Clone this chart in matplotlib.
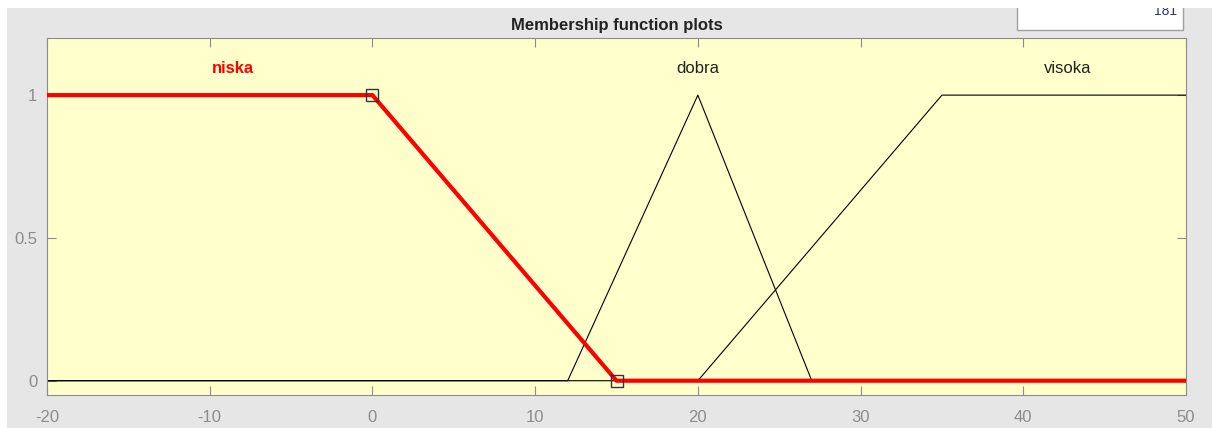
import matplotlib.pyplot as plt
from matplotlib.patches import Rectangle

plt.rcParams['font.family'] = ['Liberation Sans', 'DejaVu Sans']

# membership functions (x points, y points)
niska_x = [-20, 0, 15, 50]
niska_y = [1, 1, 0, 0]
dobra_x = [-20, 12, 20, 27, 50]
dobra_y = [0, 0, 1, 0, 0]
visoka_x = [-20, 20, 35, 50]
visoka_y = [0, 0, 1, 1]
labels = ['niska', 'dobra', 'visoka']
label_x = [-8.6, 20, 42.7]
xticks = [-20, -10, 0, 10, 20, 30, 40, 50]
yticks = [0, 0.5, 1]

fig = plt.figure(figsize=(12.12, 4.28), dpi=100)
fig.patch.set_facecolor('white')
W, H = 1212, 428
# grey panel behind the axes
fig.patches.append(Rectangle((7 / W, 0), 1 - 7 / W, 1 - 8 / H, transform=fig.transFigure,
                             facecolor='#e6e6e6', edgecolor='none', zorder=-2))
# white edit box in the top-right corner
fig.patches.append(Rectangle((1017 / W, 1 - 30 / H), 166 / W, 30 / H, transform=fig.transFigure,
                             facecolor='white', edgecolor='#a0a0a0', lw=1, zorder=-1))
fig.text(1177 / W, 1 - 15 / H, '181', ha='right', va='baseline', fontsize=10, color='#333366',
         zorder=1)
# white strip at the very top hides the upper part of the box text
fig.patches.append(Rectangle((0, 1 - 8 / H), 1, 8 / H, transform=fig.transFigure,
                             facecolor='white', edgecolor='none', zorder=5))

ax = fig.add_axes([47 / W, 1 - 395 / H, (1186 - 47) / W, (395 - 38) / H])
ax.set_facecolor('#ffffcc')

ax.plot(dobra_x, dobra_y, color='black', lw=0.8, zorder=2)
ax.plot(visoka_x, visoka_y, color='black', lw=0.8, zorder=2)
ax.plot(niska_x, niska_y, color='red', lw=3, zorder=3)
ax.plot([0, 15], [1, 0], ls='none', marker='s', ms=9, mfc='none', mec='#333333', mew=1, zorder=4)

ax.text(label_x[0], 1.094, labels[0], color='red', fontweight='bold', ha='center', va='center', fontsize=12)
ax.text(label_x[1], 1.094, labels[1], color='#222222', ha='center', va='center', fontsize=12)
ax.text(label_x[2], 1.094, labels[2], color='#222222', ha='center', va='center', fontsize=12)

ax.set_xlim(-20, 50)
ax.set_ylim(-0.05, 1.2)
ax.set_xticks(xticks)
ax.set_xticklabels([str(t) for t in xticks])
ax.set_yticks(yticks)
ax.set_yticklabels(['0', '0.5', '1'])
ax.tick_params(direction='in', top=True, right=True, colors='#8c8c8c', labelcolor='#8c8c8c',
               labelsize=12, length=6.5)
ax.tick_params(axis='x', pad=11)
ax.tick_params(axis='y', pad=7)
for s in ax.spines.values():
    s.set_color('#8c8c8c')

ax.set_title('Membership function plots', fontweight='bold', fontsize=12, pad=6, color='#222222')

plt.savefig('out.png', dpi=100)
plt.close()
